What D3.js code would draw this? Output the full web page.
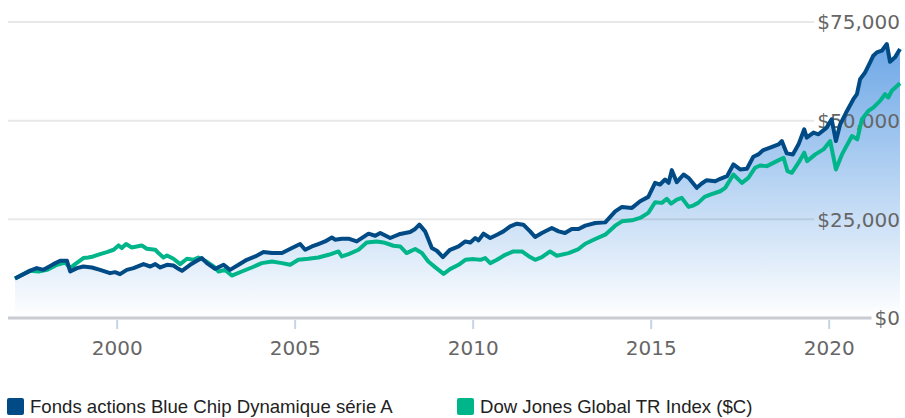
<!DOCTYPE html>
<html>
<head>
<meta charset="utf-8">
<script src="https://cdn.jsdelivr.net/npm/d3@7"></script>
<style>
  body { margin: 0; background: #fff; }
  svg { display: block; }
</style>
</head>
<body>
<div id="chart"></div>
<script>
/* Data (decimal years, growth of $10,000) */
const fundYears = [1997.13, 1997.56, 1997.74, 1997.93, 1998.21, 1998.40, 1998.59, 1998.68, 1998.87, 1999.05,
  1999.29, 1999.52, 1999.80, 1999.94, 2000.08, 2000.27, 2000.46, 2000.74, 2000.93, 2001.07,
  2001.21, 2001.40, 2001.58, 2001.72, 2001.82, 2002.05, 2002.24, 2002.38, 2002.52, 2002.75,
  2002.99, 2003.17, 2003.41, 2003.64, 2003.88, 2004.11, 2004.35, 2004.63, 2004.91, 2005.14,
  2005.28, 2005.47, 2005.65, 2005.84, 2006.03, 2006.12, 2006.31, 2006.50, 2006.73, 2007.06,
  2007.25, 2007.39, 2007.67, 2007.95, 2008.23, 2008.37, 2008.49, 2008.65, 2008.84, 2008.98,
  2009.15, 2009.35, 2009.59, 2009.78, 2009.92, 2010.06, 2010.15, 2010.29, 2010.48, 2010.67,
  2010.85, 2011.04, 2011.23, 2011.41, 2011.60, 2011.74, 2011.93, 2012.21, 2012.40, 2012.58,
  2012.77, 2012.96, 2013.15, 2013.43, 2013.71, 2013.99, 2014.18, 2014.46, 2014.69, 2014.92,
  2015.11, 2015.25, 2015.39, 2015.49, 2015.58, 2015.72, 2015.91, 2016.05, 2016.28, 2016.42,
  2016.56, 2016.80, 2016.94, 2017.13, 2017.31, 2017.50, 2017.69, 2017.87, 2018.01, 2018.15,
  2018.34, 2018.58, 2018.67, 2018.81, 2018.98, 2019.14, 2019.30, 2019.37, 2019.56, 2019.70,
  2019.93, 2020.07, 2020.19, 2020.31, 2020.50, 2020.68, 2020.78, 2020.87, 2021.01, 2021.15,
  2021.24, 2021.34, 2021.48, 2021.62, 2021.71, 2021.85, 2021.99];
const fundValues = [10000, 12000, 12640, 12200, 13650, 14500, 14500, 11780, 12640, 13050,
  12800, 12200, 11370, 11620, 11110, 12200, 12640, 13650, 13050, 13650,
  12800, 13480, 13300, 12460, 11950, 13480, 14500, 15180, 13900, 12460,
  13480, 12200, 13480, 14750, 15590, 16710, 16450, 16450, 17720, 18740,
  17290, 18130, 18740, 19400, 20420, 19840, 20090, 20090, 19400, 21360,
  20850, 21540, 20270, 21290, 21790, 22560, 23650, 21950, 17720, 17040,
  15440, 17290, 18130, 19400, 19150, 20270, 19660, 21360, 20270, 21110,
  21950, 23220, 23900, 23650, 21950, 20520, 21540, 22810, 21950, 21540,
  22560, 22560, 23400, 24080, 24230, 27030, 28150, 27900, 29580, 30690,
  34250, 33820, 35090, 34250, 37460, 34410, 36360, 35520, 32980, 34080,
  34920, 34660, 35270, 35930, 38910, 37640, 37810, 40870, 41450, 42550,
  43150, 44000, 44840, 41710, 41450, 44000, 47810, 45700, 46970, 46540,
  48240, 50350, 44840, 49080, 52460, 55440, 56710, 60520, 62220, 64760,
  66460, 67310, 67730, 69420, 64920, 66040, 68150];

const indexYears = [1997.13, 1997.56, 1997.79, 1998.03, 1998.31, 1998.54, 1998.68, 1998.82, 1999.05, 1999.19,
  1999.33, 1999.52, 1999.71, 1999.90, 2000.04, 2000.13, 2000.25, 2000.41, 2000.55, 2000.69,
  2000.83, 2001.07, 2001.16, 2001.30, 2001.40, 2001.58, 2001.77, 2001.96, 2002.14, 2002.28,
  2002.47, 2002.71, 2002.85, 2003.03, 2003.22, 2003.50, 2003.78, 2004.06, 2004.35, 2004.63,
  2004.86, 2005.09, 2005.37, 2005.65, 2005.94, 2006.22, 2006.31, 2006.50, 2006.78, 2007.01,
  2007.29, 2007.48, 2007.76, 2007.95, 2008.13, 2008.37, 2008.56, 2008.74, 2008.93, 2009.17,
  2009.35, 2009.59, 2009.78, 2010.01, 2010.20, 2010.34, 2010.48, 2010.67, 2010.90, 2011.13,
  2011.37, 2011.60, 2011.74, 2011.93, 2012.16, 2012.35, 2012.68, 2012.96, 2013.15, 2013.43,
  2013.71, 2013.99, 2014.18, 2014.46, 2014.69, 2014.92, 2015.11, 2015.30, 2015.44, 2015.56,
  2015.72, 2015.86, 2016.05, 2016.18, 2016.32, 2016.50, 2016.66, 2016.94, 2017.08, 2017.31,
  2017.55, 2017.73, 2017.92, 2018.06, 2018.25, 2018.53, 2018.72, 2018.83, 2018.95, 2019.14,
  2019.30, 2019.38, 2019.61, 2019.84, 2020.03, 2020.19, 2020.36, 2020.64, 2020.79, 2020.92,
  2021.10, 2021.24, 2021.43, 2021.57, 2021.66, 2021.76, 2021.99];
const indexValues = [10000, 12000, 11780, 12200, 13480, 14060, 12640, 13650, 15180, 15330,
  15590, 16200, 16710, 17290, 18390, 17720, 18740, 17880, 18130, 18390,
  17550, 17290, 16450, 15330, 15840, 15000, 13650, 15000, 14750, 15330,
  14500, 13050, 11780, 12200, 10760, 11780, 12800, 13900, 14320, 13900,
  13480, 14750, 15000, 15330, 16020, 16860, 15590, 16200, 17290, 19150,
  19400, 19150, 18310, 18130, 16450, 17470, 16450, 14320, 12890, 11190,
  12380, 13480, 14750, 14920, 14750, 15180, 13900, 14750, 16020, 16860,
  16860, 15440, 14750, 15440, 16860, 15770, 16450, 17470, 18820, 20010,
  21110, 23400, 24490, 24740, 25350, 26630, 29320, 29170, 30190, 28990,
  30010, 30440, 28150, 28480, 29170, 30690, 31280, 32120, 32980, 36360,
  34250, 35520, 38070, 38650, 38480, 39750, 40610, 37200, 36800, 39340,
  41880, 39750, 41450, 42720, 44840, 37640, 41450, 46110, 45270, 50350,
  52460, 53320, 55010, 56710, 55870, 57570, 59500];

const yTicks = [0, 25000, 50000, 75000];
const xTicks = [2000, 2005, 2010, 2015, 2020];
const seriesNames = ["Fonds actions Blue Chip Dynamique série A", "Dow Jones Global TR Index ($C)"];
const seriesColors = ["#004b85", "#00b589"];

const fund = fundYears.map((t, i) => ({ t: t, v: fundValues[i] }));
const index = indexYears.map((t, i) => ({ t: t, v: indexValues[i] }));

drawChart();

function drawChart() {
  const width = 905, height = 418;
  const left = 15, right = 900, top = 22, bottom = 318;

  const svg = d3.select("#chart").append("svg")
    .attr("width", width)
    .attr("height", height);

  const x = d3.scaleLinear().domain([1997.13, 2021.99]).range([left, right]);
  const y = d3.scaleLinear().domain([0, 75000]).range([bottom, top]);

  const grad = svg.append("defs").append("linearGradient")
    .attr("id", "areaFill")
    .attr("gradientUnits", "userSpaceOnUse")
    .attr("x1", 0).attr("x2", 0)
    .attr("y1", 40).attr("y2", bottom);
  grad.append("stop").attr("offset", 0).attr("stop-color", "#6ba6e6");
  grad.append("stop").attr("offset", 1).attr("stop-color", "#ffffff");

  /* area under the fund line */
  const area = d3.area()
    .x(d => x(d.t))
    .y0(bottom)
    .y1(d => y(d.v));
  svg.append("path")
    .datum(fund)
    .attr("fill", "url(#areaFill)")
    .attr("d", area);

  /* y labels, then gridlines stopping at each label */
  const labels = svg.append("g");
  yTicks.forEach(v => {
    const lab = labels.append("text")
      .attr("x", 900)
      .attr("y", y(v))
      .attr("dy", "0.36em")
      .attr("text-anchor", "end")
      .attr("font-family", "DejaVu Sans")
      .attr("font-size", "20px")
      .attr("fill", "#666")
      .text(d3.format("$,")(v));
    const bx = lab.node().getBBox().x;
    svg.insert("line", "g")
      .attr("x1", 8)
      .attr("x2", bx - 3)
      .attr("y1", y(v))
      .attr("y2", y(v))
      .attr("stroke", v === 0 ? "#c9ccd2" : "rgba(0,0,0,0.09)")
      .attr("stroke-width", v === 0 ? 3 : 2);
  });

  /* x axis ticks */
  const xg = svg.append("g");
  xTicks.forEach(t => {
    xg.append("line")
      .attr("x1", x(t)).attr("x2", x(t))
      .attr("y1", bottom + 2).attr("y2", bottom + 11)
      .attr("stroke", "#c6d3e8")
      .attr("stroke-width", 2);
    xg.append("text")
      .attr("x", x(t))
      .attr("y", 355)
      .attr("text-anchor", "middle")
      .attr("font-family", "DejaVu Sans")
      .attr("font-size", "20px")
      .attr("fill", "#666")
      .text(t);
  });

  /* lines */
  const line = d3.line()
    .x(d => x(d.t))
    .y(d => y(d.v));
  [index, fund].forEach((s, i) => {
    svg.append("path")
      .datum(s)
      .attr("fill", "none")
      .attr("stroke", seriesColors[1 - i])
      .attr("stroke-width", 4)
      .attr("stroke-linejoin", "round")
      .attr("d", line);
  });

  /* legend */
  const legendX = [7, 457];
  seriesNames.forEach((name, i) => {
    const g = svg.append("g").attr("transform", `translate(${legendX[i]},398)`);
    g.append("rect")
      .attr("width", 17)
      .attr("height", 17)
      .attr("rx", 2)
      .attr("fill", seriesColors[i]);
    g.append("text")
      .attr("x", 23)
      .attr("y", 15)
      .attr("font-family", "Liberation Sans, Arial, sans-serif")
      .attr("font-size", "18.6px")
      .attr("fill", "#222")
      .text(name);
  });
}
</script>
</body>
</html>
